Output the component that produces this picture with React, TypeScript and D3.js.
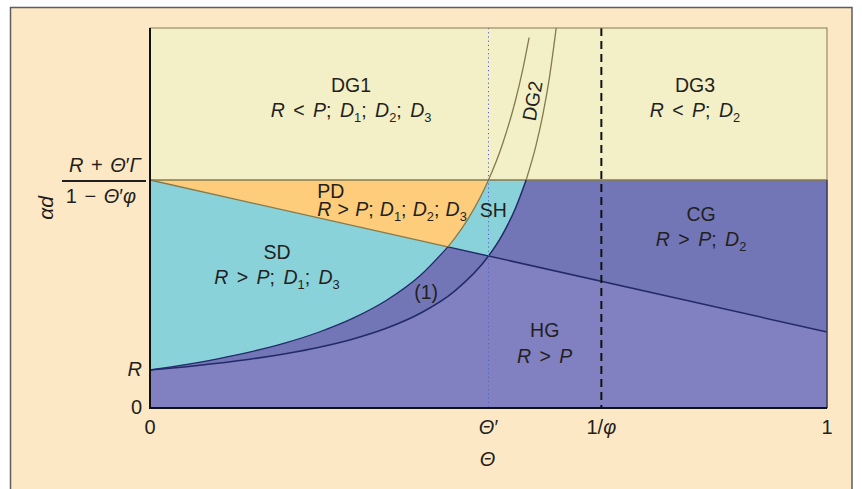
import React from "react";
import * as d3 from "d3";

// Threshold levels on the αd axis
const R = 0.1;
const threshold = 0.6; // (R + Θ′Γ) / (1 − Θ′φ)
const thetaPrime = 0.5;
const invPhi = 0.6667;
const crossTheta = 0.44; // where the SD boundary meets the sloped line

// Upper boundary of SD (continues as the left DG2 edge)
const boundarySD: [number, number][] = [
  [0, 0.1], [0.05, 0.1135], [0.1, 0.1294], [0.15, 0.1484], [0.2, 0.1714],
  [0.25, 0.2], [0.3, 0.2364], [0.35, 0.2842], [0.4, 0.35], [0.44, 0.424],
  [0.45, 0.4462], [0.47, 0.4983], [0.5, 0.6], [0.52, 0.6909], [0.54, 0.8105],
  [0.55, 0.8857], [0.56, 0.975],
];

// Curve (1) (continues as the right DG2 edge)
const boundaryOne: [number, number][] = [
  [0, 0.1], [0.05, 0.1081], [0.1, 0.1176], [0.15, 0.129], [0.2, 0.1429],
  [0.25, 0.16], [0.3, 0.1818], [0.35, 0.2105], [0.4, 0.25], [0.45, 0.3077],
  [0.5, 0.4], [0.52, 0.4545], [0.54, 0.5263], [0.5556, 0.6], [0.57, 0.6897],
  [0.58, 0.7692], [0.59, 0.8696], [0.6, 1.0],
];

// Sloped boundary between PD/SD and CG/HG
const boundaryLine: [number, number][] = [[0, 0.6], [crossTheta, 0.424], [1, 0.2]];

const xTicks = [
  { v: 0, label: "0" },
  { v: thetaPrime, label: "Θ′" },
  { v: invPhi, label: "1/φ" },
  { v: 1, label: "1" },
];
const yTicks = [
  { v: 0, label: "0" },
  { v: R, label: "R" },
];

const regionLabels = [
  { t: 0.297, a: 0.832, lines: ["DG1", "R < P; D_1; D_2; D_3"], anchor: "middle", gap: 25, ws: 3 },
  { t: 0.805, a: 0.832, lines: ["DG3", "R < P; D_2"], anchor: "middle", gap: 25, ws: 3 },
  { t: 0.247, a: 0.553, lines: ["PD", "R > P; D_1; D_2; D_3"], anchor: "start", gap: 18, ws: 0.8 },
  { t: 0.487, a: 0.503, lines: ["SH"], anchor: "start", gap: 0, ws: 0 },
  { t: 0.1876, a: 0.392, lines: ["SD", "R > P; D_1; D_3"], anchor: "middle", gap: 25, ws: 3 },
  { t: 0.408, a: 0.287, lines: ["(1)"], anchor: "middle", gap: 0, ws: 0 },
  { t: 0.583, a: 0.187, lines: ["HG", "R > P"], anchor: "middle", gap: 26, ws: 3 },
  { t: 0.814, a: 0.492, lines: ["CG", "R > P; D_2"], anchor: "middle", gap: 25, ws: 3 },
];

const W = 862;
const H = 489;
const FONT = "'Liberation Sans', Arial, Helvetica, sans-serif";
const INK = "#231f20";
const LABEL_SIZE = 19.5;
const C = {
  page: "#fde8c5",
  frame: "#5d5d5d",
  dg: "#f3efc7",
  pd: "#fdcd7b",
  cyan: "#8ad2d9",
  cg: "#7276b7",
  hg: "#8180c0",
  navy: "#232a69",
  olive: "#857a4e",
  dotted: "#5563c8",
};

const ITALIC = new Set(["R", "P", "D", "Θ", "Γ", "φ", "α", "d"]);

type Seg = { s: string; italic: boolean; sub: boolean };

function parseMath(str: string): Seg[] {
  const segs: Seg[] = [];
  for (let i = 0; i < str.length; i++) {
    let ch = str[i];
    let sub = false;
    if (ch === "_") {
      sub = true;
      i++;
      ch = str[i];
    }
    const italic = !sub && ITALIC.has(ch);
    const last = segs[segs.length - 1];
    if (last && last.italic === italic && last.sub === sub) last.s += ch;
    else segs.push({ s: ch, italic, sub });
  }
  return segs;
}

function MathTspans({ str, size }: { str: string; size: number }) {
  const segs = parseMath(str);
  const shift = Math.round(size * 0.28);
  let lowered = false;
  return (
    <>
      {segs.map((g, i) => {
        let dy = 0;
        if (g.sub && !lowered) { dy = shift; lowered = true; }
        else if (!g.sub && lowered) { dy = -shift; lowered = false; }
        return (
          <tspan
            key={i}
            dy={dy || undefined}
            fontStyle={g.italic ? "italic" : "normal"}
            fontSize={g.sub ? size * 0.66 : size}
          >
            {g.s}
          </tspan>
        );
      })}
    </>
  );
}

export default function App() {
  const x = d3.scaleLinear().domain([0, 1]).range([150, 827]);
  const y = d3.scaleLinear().domain([0, 1]).range([408, 28]);
  const yT = y(threshold);

  const curve = d3
    .line<[number, number]>()
    .x((d) => x(d[0]))
    .y((d) => y(d[1]))
    .curve(d3.curveMonotoneX);
  const straight = d3
    .line<[number, number]>()
    .x((d) => x(d[0]))
    .y((d) => y(d[1]));
  const areaUp = d3
    .area<[number, number]>()
    .x((d) => x(d[0]))
    .y0((d) => y(d[1]))
    .y1(yT)
    .curve(d3.curveMonotoneX);
  const areaUpStraight = d3
    .area<[number, number]>()
    .x((d) => x(d[0]))
    .y0((d) => y(d[1]))
    .y1(yT);

  const sdBelowT = boundarySD.filter((d) => d[1] <= threshold);
  const oneBelowT = boundaryOne.filter((d) => d[1] <= threshold);

  const sdNavy = boundarySD.filter((d) => d[0] <= crossTheta);
  const sdOlive = boundarySD.filter((d) => d[0] >= crossTheta);
  const oneNavy = oneBelowT;
  const oneOlive = boundaryOne.filter((d) => d[1] >= threshold);
  const lineOlive = boundaryLine.filter((d) => d[0] <= crossTheta);
  const lineNavy = boundaryLine.filter((d) => d[0] >= crossTheta);

  const [x0, x1] = x.range();
  const [yb, yt] = y.range();

  return (
    <svg
      width={W}
      height={H}
      style={{ position: "absolute", left: 0, top: 0, background: "#ffffff" }}
      fontFamily={FONT}
    >
      <defs>
        <clipPath id="above-line">
          <path d={areaUpStraight(boundaryLine) || ""} />
        </clipPath>
      </defs>

      {/* page frame */}
      <rect x={10.5} y={7.5} width={841.5} height={500} fill={C.page} stroke={C.frame} strokeWidth={1.5} />

      {/* regions */}
      <rect x={x0} y={yt} width={x1 - x0} height={yT - yt} fill={C.dg} />
      <rect x={x0} y={yT} width={x1 - x0} height={yb - yT} fill={C.hg} />
      <path d={areaUpStraight(boundaryLine) || ""} fill={C.cg} />
      <path d={areaUp(oneBelowT) || ""} fill={C.cg} />
      <path d={areaUp(sdBelowT) || ""} fill={C.cyan} />
      <path d={areaUp(oneBelowT) || ""} fill={C.cyan} clipPath="url(#above-line)" />
      <path d={areaUp(sdBelowT) || ""} fill={C.pd} clipPath="url(#above-line)" />

      {/* boundaries */}
      <line x1={x0} x2={x1} y1={yT} y2={yT} stroke={C.olive} strokeWidth={1.3} />
      <path d={straight(lineOlive) || ""} fill="none" stroke={C.olive} strokeWidth={1.3} />
      <path d={straight(lineNavy) || ""} fill="none" stroke={C.navy} strokeWidth={1.5} />
      <path d={curve(sdNavy) || ""} fill="none" stroke={C.navy} strokeWidth={1.3} />
      <path d={curve(sdOlive) || ""} fill="none" stroke={C.olive} strokeWidth={1.3} />
      <path d={curve(oneNavy) || ""} fill="none" stroke={C.navy} strokeWidth={1.5} />
      <path d={curve(oneOlive) || ""} fill="none" stroke={C.olive} strokeWidth={1.3} />

      {/* reference verticals */}
      <line
        x1={x(thetaPrime)} x2={x(thetaPrime)} y1={yt} y2={yb}
        stroke={C.dotted} strokeWidth={1} strokeDasharray="1.2,3"
      />
      <line
        x1={x(invPhi)} x2={x(invPhi)} y1={yt} y2={yb}
        stroke="#111" strokeWidth={2} strokeDasharray="8,5"
      />

      {/* plot border and axes */}
      <rect x={x0} y={yt} width={x1 - x0} height={yb - yt} fill="none" stroke={C.olive} strokeWidth={1} />
      <line x1={x1} x2={x1} y1={yT} y2={yb} stroke={C.navy} strokeWidth={1.2} />
      <line x1={x0} x2={x0} y1={yt} y2={yb + 1} stroke="#111" strokeWidth={2} />
      <line x1={x0 - 1} x2={x1} y1={yb} y2={yb} stroke="#111" strokeWidth={2} />

      {/* region labels */}
      {regionLabels.map((lab, i) => (
        <text
          key={i}
          x={x(lab.t)}
          y={y(lab.a)}
          textAnchor={lab.anchor}
          fontSize={LABEL_SIZE}
          wordSpacing={lab.ws}
          fill={INK}
        >
          {lab.lines.map((ln, j) => (
            <tspan key={j} x={x(lab.t)} dy={j === 0 ? 0 : lab.gap}>
              {j === 0 ? ln : <MathTspans str={ln} size={LABEL_SIZE} />}
            </tspan>
          ))}
        </text>
      ))}
      <text
        transform={`translate(${x(0.566)},${y(0.808)}) rotate(-80)`}
        textAnchor="middle"
        dy={6}
        fontSize={LABEL_SIZE}
        fill={INK}
      >
        DG2
      </text>

      {/* x ticks */}
      {xTicks.map((tk) => (
        <text key={tk.label} x={x(tk.v)} y={434} textAnchor="middle" fontSize={20} fill={INK}>
          <MathTspans str={tk.label} size={20} />
        </text>
      ))}
      <text x={x(thetaPrime) - 1} y={466} textAnchor="middle" fontSize={20} fill={INK}>
        <MathTspans str="Θ" size={20} />
      </text>

      {/* y ticks */}
      {yTicks.map((tk) => (
        <text key={tk.label} x={142} y={y(tk.v) + 6} textAnchor="end" fontSize={20} fill={INK}>
          <MathTspans str={tk.label} size={20} />
        </text>
      ))}
      <text x={105} y={yT - 8} textAnchor="middle" fontSize={20} wordSpacing={2} fill={INK}>
        <MathTspans str="R + Θ′Γ" size={20} />
      </text>
      <line x1={62} x2={146} y1={yT + 1} y2={yT + 1} stroke={INK} strokeWidth={2} />
      <text x={101} y={yT + 23} textAnchor="middle" fontSize={20} wordSpacing={2} fill={INK}>
        <MathTspans str="1 − Θ′φ" size={20} />
      </text>
      <text
        transform={`translate(53,208) rotate(-90)`}
        textAnchor="middle"
        fontSize={21}
        fill={INK}
      >
        <MathTspans str="αd" size={21} />
      </text>
    </svg>
  );
}
